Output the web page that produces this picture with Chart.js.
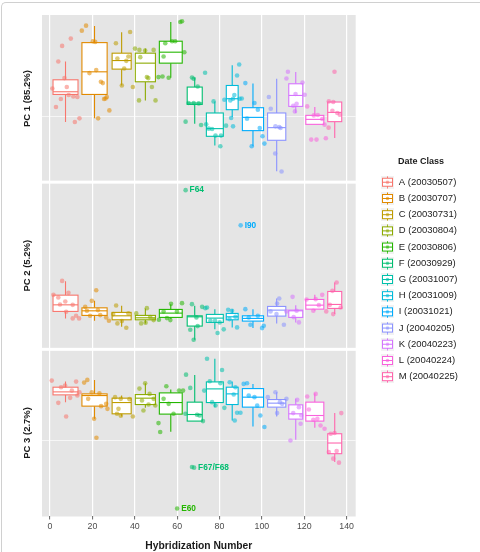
<!DOCTYPE html>
<html lang="en">
<head>
<meta charset="UTF-8">
<title>PCA scores by date class</title>
<script src="https://cdn.jsdelivr.net/npm/chart.js@4.4.1/dist/chart.umd.min.js"></script>
<style>
  body { margin: 0; background: #fff; }
  .figure { position: relative; width: 480px; height: 552px; overflow: hidden; }
  .figure__frame { position: absolute; left: 1px; top: 2px; width: 490px; height: 580px; border-top: 1px solid #d0d0d0; border-left: 1px solid #d0d0d0; border-top-left-radius: 5px; }
  #pcaChart { position: absolute; left: 0; top: 0; }
</style>
</head>
<body>
<div class="figure">
  <div class="figure__frame"></div>
  <canvas id="pcaChart" width="480" height="552"></canvas>
</div>
<script>
// ---- data (scores, arbitrary units per panel) ----
const dateClasses = ['A (20030507)', 'B (20030707)', 'C (20030731)', 'D (20030804)', 'E (20030806)', 'F (20030929)',
  'G (20031007)', 'H (20031009)', 'I (20031021)', 'J (20040205)', 'K (20040223)', 'L (20040224)', 'M (20040225)'];
const classColors = ['#F8766D', '#E18A00', '#BE9C00', '#8CAB00', '#24B700', '#00BE70', '#00C1AB',
  '#00BBDA', '#00ACFC', '#8B93FF', '#D575FE', '#F962DD', '#FF65AC'];

// hybridization number at the centre of each group's box, and the box width
const groupCenter = [7.3, 21, 33.8, 45, 57, 68.3, 77.8, 86, 95.8, 107, 116, 125, 134.4];
const groupWidth = [11.8, 11.9, 9, 9.5, 10.8, 7.1, 8, 5.6, 10, 8.6, 6.6, 8.5, 6.6];

const panelTitles = ['PC 1 (85.2%)', 'PC 2 (5.2%)', 'PC 3 (2.7%)'];
const panelRange = [[-2.7, 165], [-2.3, 165.3], [0, 167.7]];
const panelGrid = [[63], [], [76]];
const xRange = [-3.8, 144.3];
const xTicks = [0, 20, 40, 60, 80, 100, 120, 140];

// [lower whisker, q1, median, q3, upper whisker]
const pc1Box = [
  [57.7, 85.3, 88, 100, 118.3], [61.3, 85.3, 108, 137.3, 154], [94.3, 110.7, 119.3, 126.7, 147.7],
  [79.3, 98, 116.7, 126.7, 131.3], [102, 116.7, 127.7, 138.7, 158], [56, 75.3, 76.7, 92.7, 102.3],
  [34, 43.3, 51, 66.7, 78.3], [62.7, 70, 81, 94.3, 114.7], [33.3, 49, 62.3, 72, 96.3],
  [8.3, 39.3, 52, 66.7, 101], [66.7, 73.3, 84.3, 96, 107.7], [55.3, 55.3, 60.3, 64.3, 72.7],
  [41.7, 58, 67.3, 77.7, 78.3]
];
const pc2Box = [
  [28.7, 35.7, 42.3, 52, 66], [26.3, 31.7, 36.3, 39.3, 46.3], [20.3, 27.3, 31.3, 34.7, 41.3],
  [23.7, 27.3, 29.3, 31.7, 38.7], [28.3, 29.7, 34, 37.7, 43], [7.3, 21, 30.3, 31.3, 41.3],
  [17.7, 24.7, 29, 32.7, 38], [19.7, 27.3, 30.3, 33.7, 38], [19, 26, 28.7, 31.3, 38],
  [23.7, 31, 37, 40.7, 48.7], [24.7, 29.7, 36.3, 37, 42], [36.3, 38, 42, 47.7, 52.3],
  [33, 38.7, 42.7, 55.7, 64.7]
];
const pc3Box = [
  [114.7, 122, 125, 129.7, 135.3], [98, 110.7, 121.3, 123, 137], [100.3, 103, 114.3, 118.7, 121.3],
  [109, 112.3, 118.7, 122.3, 133.7], [85, 102.7, 114.3, 124, 127.3], [95.7, 95.7, 102.3, 114.7, 142],
  [109.7, 114.3, 128, 135, 158.3], [96.3, 112.3, 123, 129.7, 135.3], [90.3, 109.7, 119.7, 128.3, 133],
  [100.3, 109.7, 113.7, 117.3, 124.7], [77, 97.7, 103, 112, 118], [89, 95.7, 101.3, 114.7, 123.7],
  [54.7, 63, 73.7, 83, 103.7]
];

// samples per class: [hybridization number, score]
const pc1Points = [
  [[5.7, 134], [9.8, 141.3], [3.9, 118.3], [6.8, 101.7], [7.9, 92.7], [1.1, 91.3], [5.1, 80.7], [8.8, 84.7], [11, 83.3], [12.9, 82.7], [2.8, 72.7], [11.7, 57.7], [13.9, 61.3]],
  [[15, 149.3], [17, 154.3], [20.2, 138.7], [21.3, 138], [18.6, 106.7], [21.8, 109.7], [24, 98], [24.9, 96.7], [26.2, 81.3], [26.8, 82.7], [25.5, 80.7], [28, 69.3], [22.7, 61.3]],
  [[31.1, 136.7], [37.8, 148], [31.8, 121.3], [36, 119], [35, 111.3], [33.9, 94.3], [39.1, 92.7], [37, 123.3]],
  [[40.1, 131.3], [42.2, 130], [44.9, 129.3], [48.9, 130], [42.6, 122.7], [45.7, 102.7], [46.4, 101.7], [48.1, 92.7], [42, 79.3], [49.8, 79.3]],
  [[61.5, 158], [62.3, 158.7], [57.6, 138.7], [59.1, 138.7], [54.4, 136.7], [53.6, 123.3], [63.4, 127.7], [51.2, 102.7], [53.1, 103.3], [56, 102]],
  [[67, 102.3], [67.8, 101], [69.7, 93.3], [65.4, 76.7], [67.8, 76.7], [70.2, 76.3], [64, 58], [71.3, 54.7]],
  [[73.2, 107], [77.2, 78.3], [73.7, 55.3], [74.9, 51], [76.5, 50.7], [78.1, 44], [80.7, 44], [80.4, 33.3], [83.1, 54]],
  [[89.3, 115.3], [88.3, 104.3], [82.3, 80], [85.1, 79.3], [86.4, 81], [87, 84.7], [89.5, 81], [90.5, 81.3], [85.5, 61.7], [86.4, 53.3]],
  [[92.2, 96.7], [96.5, 76.7], [98.1, 70], [93, 61], [99, 51.7], [100.3, 43.3], [101.2, 36], [95.2, 33.3]],
  [[103.3, 82.7], [104.2, 71], [106.4, 53.3], [108.2, 52.7], [108.8, 51.7], [106.3, 26], [109.3, 8]],
  [[112.3, 108], [111.6, 101.3], [119.2, 97.3], [115.9, 85.7], [120.2, 85], [116.4, 76], [114.8, 74], [115.6, 68.3]],
  [[121.4, 73.3], [124.5, 64.3], [126.4, 64.7], [128.5, 60.7], [123.3, 40], [125.8, 40], [130.2, 41.3], [129.6, 55]],
  [[134.3, 108], [131.6, 78.3], [133.7, 77.7], [135.6, 66.7], [136.8, 65], [131.5, 52], [133.3, 69]]
];
const pc2Points = [
  [[5.7, 66.3], [1.6, 52.3], [8.7, 54.3], [3.9, 49.7], [7.2, 45.7], [4.7, 42.7], [10.7, 42.3], [7.6, 35.3], [10.7, 28.7], [13.7, 28.7], [12.3, 31.3]],
  [[21.8, 57], [19.7, 46.3], [16.6, 40.3], [17.4, 36.3], [22.6, 37], [18.9, 31.3], [23.7, 32], [26.5, 29.7], [27.8, 26.3]],
  [[31.2, 41.7], [31.8, 23.7], [36, 19.3], [33.9, 26], [37, 33.7], [29.8, 33]],
  [[45.7, 39], [40.7, 33.7], [43, 23.7], [45.1, 24.3], [48.9, 27], [47.3, 30]],
  [[62.3, 44], [57.1, 43.3], [53.6, 35.7], [51.4, 27.3], [55.2, 29], [56.8, 27], [59.9, 35.7]],
  [[64, 157.3], [67, 43], [71.8, 40.3], [69.1, 29.7], [66.2, 17.3], [69.7, 21], [67.8, 7.3]],
  [[73.3, 39], [74.1, 39.7], [75.7, 26.3], [77.9, 26.3], [80.1, 24.7], [79.1, 14], [82, 17.7]],
  [[84.1, 37.3], [85.9, 36.3], [87.5, 30.3], [88.3, 19.7], [84.7, 28]],
  [[90, 122], [92.2, 38], [93.8, 29.7], [94.6, 22.3], [100.1, 19], [100.9, 21.3], [98.1, 31.3]],
  [[108.2, 48.7], [107.2, 43.7], [104.1, 35.7], [106.9, 33], [110.4, 22.3]],
  [[114.5, 50.3], [111.6, 35.7], [116.4, 36.3], [117.5, 24.7], [115, 30]],
  [[121.1, 47.7], [125.4, 48], [128.5, 52.3], [124.3, 36.3], [126.9, 42]],
  [[135.3, 64.7], [133.3, 56.3], [132.1, 42.3], [137.2, 39.7], [130.4, 35.7], [133.7, 33]]
];
const pc3Points = [
  [[0.8, 136.3], [12.3, 135.3], [7.1, 131.3], [5.2, 129.7], [10.3, 126.3], [13.9, 124.7], [3.9, 114], [9.5, 119], [7.6, 100.3], [12.9, 121.3]],
  [[16.1, 134.3], [17.6, 137], [19.7, 124.7], [23.3, 123.7], [24.1, 110.7], [26.5, 113], [27.1, 108], [20.8, 98], [21.9, 79], [18, 118]],
  [[30.7, 119.7], [33.4, 118], [37.5, 117.7], [32.3, 108], [31.6, 103], [33.4, 101], [39.1, 100.3]],
  [[44.9, 133.7], [42.2, 128.3], [47, 123], [43.4, 116.3], [48.9, 118], [44.1, 106.3], [46.5, 112.3], [49.7, 111.3]],
  [[54.9, 130.7], [60.9, 126.3], [62.8, 126.3], [53.6, 118], [56, 113], [58.3, 103], [51.2, 93.7], [52, 84.7], [60, 8]],
  [[64.2, 142.3], [66.2, 129], [63.9, 103], [69.4, 102], [70.6, 101.3], [72.2, 95.7], [67, 49.7], [68, 49]],
  [[74.1, 158.3], [81.2, 147], [75.4, 135.7], [80.4, 133.7], [72.8, 126.3], [76.5, 114.7], [78.1, 111.3], [82.3, 109]],
  [[84.8, 134.7], [87.5, 129.7], [86.7, 122.3], [88.3, 104], [89.9, 104], [87.2, 96.3]],
  [[91.4, 133], [93, 133.7], [93.8, 121.3], [96.5, 119.7], [97.8, 111.3], [99.3, 101.3], [101.2, 89.7]],
  [[102.8, 119.7], [106.4, 124.7], [108.5, 114.7], [109.6, 113], [111.6, 118], [107.2, 103.7]],
  [[116.7, 117], [117.5, 109.7], [114.8, 103.7], [118.6, 101.3], [118.3, 93], [113.5, 76.3]],
  [[121.4, 120.3], [125.4, 123], [122.2, 107.3], [124.3, 97], [126.2, 98], [127.7, 91.3], [129.6, 88]],
  [[137.5, 103.7], [132.5, 83], [134.3, 83.7], [131.6, 64.7], [135.3, 65.7], [136.4, 54], [133.7, 58]]
];

// labelled outliers: [text, panel, class index, hybridization number, score]
const outlierLabels = [
  ['F64', 2, 5, 64, 157.3],
  ['I90', 2, 8, 90, 122],
  ['F67/F68', 3, 5, 68, 49],
  ['E60', 3, 4, 60, 8]
];

const panelBoxes = [pc1Box, pc2Box, pc3Box];
const panelPoints = [pc1Points, pc2Points, pc3Points];

// ---- drawing ----
const FONT = '"Liberation Sans", Arial, Helvetica, sans-serif';
Chart.defaults.font.family = FONT;

function withAlpha(hex, a) {
  const n = parseInt(hex.slice(1), 16);
  return `rgba(${n >> 16}, ${(n >> 8) & 255}, ${n & 255}, ${a})`;
}

function legendKey(color) {
  const c = document.createElement('canvas');
  c.width = 13;
  c.height = 13;
  const g = c.getContext('2d');
  g.fillStyle = '#f2f2f2';
  g.fillRect(0, 0, 13, 13);
  g.strokeStyle = color;
  g.lineWidth = 1;
  g.beginPath();
  g.moveTo(6.5, 0.5); g.lineTo(6.5, 2.5);
  g.moveTo(6.5, 10.5); g.lineTo(6.5, 12.5);
  g.stroke();
  g.fillStyle = '#fff';
  g.fillRect(1.5, 2.5, 10, 8);
  g.strokeRect(1.5, 2.5, 10, 8);
  g.beginPath();
  g.moveTo(1.5, 6.5); g.lineTo(11.5, 6.5);
  g.stroke();
  g.fillStyle = withAlpha(color, 0.6);
  g.beginPath();
  g.arc(6.5, 6.5, 1.8, 0, Math.PI * 2);
  g.fill();
  return c;
}
const legendKeys = classColors.map(legendKey);

// place legend so its keys start at x=381 and the panels end at x=355.7
const legendFontSize = 9.5, legendPad = 6.7, keyWidth = 13;
const measure = document.createElement('canvas').getContext('2d');
measure.font = `normal normal ${legendFontSize}px ${FONT}`;
const maxText = Math.max(...dateClasses.map(t => measure.measureText(t).width));
const legendWidth = legendPad + keyWidth + legendFontSize / 2 + maxText + 10;
const legendLeft = 381 - legendPad;
const padRight = Math.max(0, 480 - legendLeft - legendWidth);
const legendGap = legendLeft - 355.7;

const panelBackground = {
  id: 'panelBackground',
  beforeDraw(chart) {
    const {ctx, chartArea} = chart;
    ctx.save();
    ctx.fillStyle = '#e5e5e5';
    panelTitles.forEach((t, p) => {
      const s = chart.scales['y' + (p + 1)];
      const top = s.top + (p > 0 ? 1.5 : 0);
      const bottom = s.bottom - (p < 2 ? 1.5 : 0);
      ctx.fillRect(chartArea.left, top, chartArea.right - chartArea.left, bottom - top);
    });
    ctx.restore();
  }
};

const boxplots = {
  id: 'boxplots',
  beforeDatasetsDraw(chart) {
    const {ctx} = chart;
    const xs = chart.scales.x;
    ctx.save();
    ctx.lineWidth = 1.1;
    panelBoxes.forEach((boxes, p) => {
      const ys = chart.scales['y' + (p + 1)];
      boxes.forEach(([lo, q1, med, q3, hi], c) => {
        const xm = xs.getPixelForValue(groupCenter[c]);
        const xl = xs.getPixelForValue(groupCenter[c] - groupWidth[c] / 2);
        const xr = xs.getPixelForValue(groupCenter[c] + groupWidth[c] / 2);
        const yt = ys.getPixelForValue(q3);
        const yb = ys.getPixelForValue(q1);
        const ym = ys.getPixelForValue(med);
        ctx.strokeStyle = classColors[c];
        ctx.beginPath();
        ctx.moveTo(xm, ys.getPixelForValue(hi)); ctx.lineTo(xm, yt);
        ctx.moveTo(xm, yb); ctx.lineTo(xm, ys.getPixelForValue(lo));
        ctx.stroke();
        ctx.fillStyle = '#fff';
        ctx.fillRect(xl, yt, xr - xl, yb - yt);
        ctx.strokeRect(xl, yt, xr - xl, yb - yt);
        ctx.beginPath();
        ctx.moveTo(xl, ym); ctx.lineTo(xr, ym);
        ctx.stroke();
      });
    });
    ctx.restore();
  }
};

const pointLabels = {
  id: 'pointLabels',
  afterDatasetsDraw(chart) {
    const {ctx} = chart;
    const xs = chart.scales.x;
    ctx.save();
    ctx.font = `bold 8.3px ${FONT}`;
    ctx.textBaseline = 'middle';
    outlierLabels.forEach(([text, panel, cls, x, y]) => {
      const ys = chart.scales['y' + panel];
      ctx.fillStyle = classColors[cls];
      ctx.fillText(text, xs.getPixelForValue(x) + 4, ys.getPixelForValue(y));
    });
    ctx.restore();
  }
};

const datasets = [];
panelPoints.forEach((classes, p) => {
  classes.forEach((pts, c) => {
    datasets.push({
      label: dateClasses[c],
      data: pts.map(([x, y]) => ({x, y})),
      xAxisID: 'x',
      yAxisID: 'y' + (p + 1),
      backgroundColor: withAlpha(classColors[c], 0.55),
      borderWidth: 0,
      pointRadius: 2.3
    });
  });
});

const scales = {
  x: {
    type: 'linear',
    position: 'bottom',
    min: xRange[0],
    max: xRange[1],
    afterBuildTicks: s => { s.ticks = xTicks.map(v => ({value: v})); },
    grid: { color: '#ffffff', lineWidth: 1.2, tickLength: 3, tickColor: '#666', tickWidth: 1 },
    border: { display: false },
    ticks: { color: '#4d4d4d', font: { size: 8.8 }, padding: 1.5, maxRotation: 0 },
    title: { display: true, text: 'Hybridization Number', color: '#1a1a1a',
      font: { size: 10.3, weight: 'bold' }, padding: { top: 6.6, bottom: 0 } }
  },
  gap: {
    type: 'linear',
    position: 'right',
    grid: { display: false },
    border: { display: false },
    ticks: { display: false },
    afterFit: s => { s.width = legendGap; }
  }
};
panelTitles.forEach((t, p) => {
  scales['y' + (p + 1)] = {
    type: 'linear',
    position: 'left',
    stack: 'pc',
    stackWeight: 1,
    weight: 3 - p,
    min: panelRange[p][0],
    max: panelRange[p][1],
    afterBuildTicks: s => { s.ticks = panelGrid[p].map(v => ({value: v})); },
    grid: { color: 'rgba(255,255,255,0.8)', lineWidth: 0.8, drawTicks: false },
    border: { display: false },
    ticks: { display: false },
    title: { display: true, text: t, color: '#1a1a1a',
      font: { size: 9.5, weight: 'bold' }, padding: { top: 21.8, bottom: 8.8 } }
  };
});

new Chart('pcaChart', {
  type: 'scatter',
  data: { datasets },
  options: {
    responsive: false,
    animation: false,
    events: [],
    layout: { padding: { top: 15, left: 0, right: padRight, bottom: 0 } },
    scales,
    plugins: {
      tooltip: { enabled: false },
      legend: {
        position: 'right',
        align: 'start',
        maxWidth: 200,
        title: { display: true, text: 'Date Class', color: '#1a1a1a',
          font: { size: 9, weight: 'bold' }, padding: { top: 142.5, bottom: 2.5 } },
        labels: {
          usePointStyle: true,
          pointStyleWidth: keyWidth,
          padding: legendPad,
          color: '#222',
          font: { size: legendFontSize },
          generateLabels: () => dateClasses.map((text, i) => ({
            text,
            pointStyle: legendKeys[i],
            fontColor: '#222',
            fillStyle: classColors[i],
            strokeStyle: classColors[i],
            lineWidth: 0,
            hidden: false,
            datasetIndex: i
          }))
        }
      }
    }
  },
  plugins: [panelBackground, boxplots, pointLabels]
});
</script>
</body>
</html>
